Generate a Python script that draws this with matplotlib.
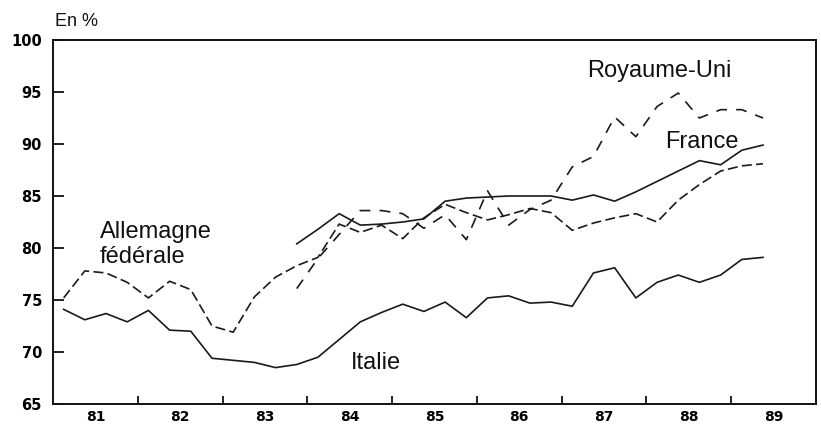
import matplotlib
matplotlib.use("Agg")
import matplotlib.pyplot as plt
import numpy as np
import pandas as pd

# Quarterly data, 1981T1 .. 1989T2
periods = pd.period_range("1981Q1", "1989Q2", freq="Q")

italie = [74.1, 73.1, 73.7, 72.9,
          74.0, 72.1, 72.0, 69.4,
          69.2, 69.0, 68.5, 68.8,
          69.5, 71.2, 72.9, 73.8,
          74.6, 73.9, 74.8, 73.3,
          75.2, 75.4, 74.7, 74.8,
          74.4, 77.6, 78.1, 75.2,
          76.7, 77.4, 76.7, 77.4,
          78.9, 79.1]

allemagne = [75.2, 77.8, 77.6, 76.7,
             75.2, 76.8, 76.0, 72.5,
             71.9, 75.3, 77.2, 78.3,
             79.1, 82.3, 81.5, 82.2,
             80.9, 82.9, 84.2, 83.4,
             82.7, 83.2, 83.8, 83.4,
             81.7, 82.4, 82.9, 83.3,
             82.5, 84.6, 86.1, 87.4,
             87.9, 88.1]

# France and Royaume-Uni start in 1983T4
start_fr_ru = "1983Q4"
france = [80.4,
          81.8, 83.3, 82.2, 82.3,
          82.5, 82.8, 84.5, 84.8,
          84.9, 85.0, 85.0, 85.0,
          84.6, 85.1, 84.5, 85.4,
          86.4, 87.4, 88.4, 88.0,
          89.4, 89.9]

royaume_uni = [76.1,
               79.0, 81.3, 83.6, 83.6,
               83.3, 81.9, 83.2, 80.8,
               85.5, 82.2, 83.7, 84.6,
               87.8, 88.8, 92.6, 90.7,
               93.6, 94.9, 92.5, 93.3,
               93.3, 92.5]

year_labels = ["81", "82", "83", "84", "85", "86", "87", "88", "89"]
years = [1981, 1982, 1983, 1984, 1985, 1986, 1987, 1988, 1989]
yticks = [65, 70, 75, 80, 85, 90, 95, 100]

x_all = np.array([p.year + (p.quarter - 0.5) / 4 for p in periods])
i0 = list(periods).index(pd.Period(start_fr_ru, freq="Q"))
x_fr = x_all[i0:i0 + len(france)]
x_ru = x_all[i0:i0 + len(royaume_uni)]

fig = plt.figure(figsize=(8.21, 4.25), dpi=100)
ax = fig.add_axes([0.0646, 0.0494, 0.9293, 0.8565])

col = "#1a1a1a"
lw = 1.2
ax.plot(x_all, italie, color=col, lw=lw)
ax.plot(x_all, allemagne, color=col, lw=lw, linestyle=(0, (6, 2.6)))
ax.plot(x_fr, france, color=col, lw=lw)
ax.plot(x_ru, royaume_uni, color=col, lw=lw, linestyle=(0, (6.5, 5.5)))

ax.set_xlim(1981, 1990)
ax.set_ylim(65, 100)

# y ticks
ax.set_yticks(yticks)
ax.set_yticklabels([str(v) for v in yticks], fontfamily="DejaVu Sans",
                   fontweight="bold", fontsize=10.5)
ax.tick_params(axis="y", direction="in", length=8, width=1.2, pad=8)

# x: ticks at year boundaries, labels at mid-year
ax.set_xticks(years[1:])
ax.set_xticklabels([])
ax.set_xticks([y + 0.5 for y in years], minor=True)
ax.set_xticklabels(year_labels, minor=True, fontfamily="DejaVu Sans",
                   fontweight="bold", fontsize=10)
ax.tick_params(axis="x", which="major", direction="in", length=6, width=1.2)
ax.tick_params(axis="x", which="minor", length=0, pad=4.3)

for s in ax.spines.values():
    s.set_linewidth(1.4)
    s.set_color("#111111")

tf = dict(fontfamily="Liberation Sans", fontsize=17, color="#111111", va="baseline")
ax.text(1981.55, 81.0, "Allemagne", **tf)
ax.text(1981.55, 78.55, "fédérale", **tf)
ax.text(1984.51, 68.4, "Italie", **tf)
ax.text(1987.30, 96.44, "Royaume-Uni", **tf)
ax.text(1988.22, 89.59, "France", **tf)

fig.text(0.067, 0.939, "En %", fontfamily="Liberation Sans", fontsize=13,
         color="#111111", va="baseline")

fig.savefig("out.png", dpi=100)
